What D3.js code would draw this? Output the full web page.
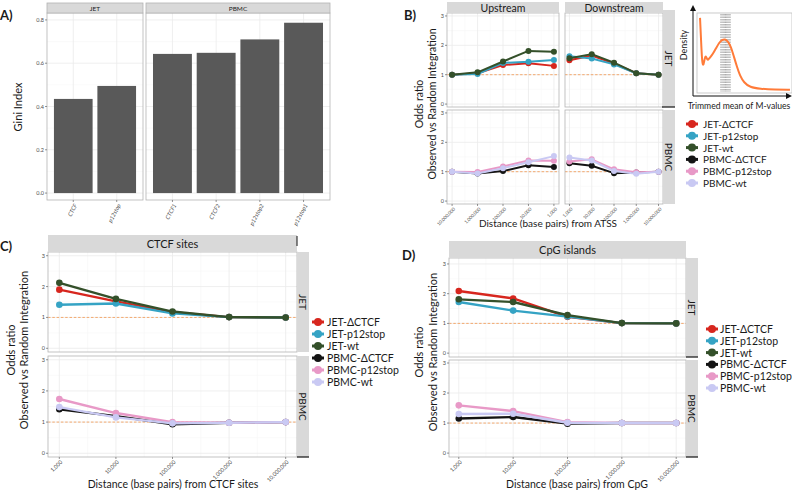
<!DOCTYPE html>
<html>
<head>
<meta charset="utf-8">
<script src="https://cdn.jsdelivr.net/npm/d3@7"></script>
<style>
  body { margin: 0; background: #fff; }
  svg { display: block; }
  text { font-family: Lato, "Open Sans", sans-serif; }
</style>
</head>
<body>
<svg id="chart" width="792" height="492"></svg>
<script>
// ---- data ----
const giniCell = ["JET", "JET", "PBMC", "PBMC", "PBMC", "PBMC"];
const giniSample = ["CTCF", "p12stop", "CTCF1", "CTCF2", "p12stop2", "p12stop1"];
const giniValue = [0.435, 0.495, 0.643, 0.648, 0.71, 0.787];
const giniTicks = [0, 0.2, 0.4, 0.6, 0.8];

const seriesNames = ["JET-ΔCTCF", "JET-p12stop", "JET-wt", "PBMC-ΔCTCF", "PBMC-p12stop", "PBMC-wt"];
const seriesColors = ["#d7261e", "#35a3c4", "#34502a", "#141414", "#e899c7", "#c9c9f3"];

const distAsc = ["1,000", "10,000", "100,000", "1,000,000", "10,000,000"];
const distDesc = distAsc.slice().reverse();
const oddsTicks = [0, 1, 2, 3];

// B) ATSS, upstream is listed 10,000,000 -> 1,000 ; downstream 1,000 -> 10,000,000
const bUpJET = [
  [1.00, 1.05, 1.33, 1.39, 1.30],
  [1.00, 1.02, 1.40, 1.44, 1.50],
  [1.00, 1.08, 1.45, 1.81, 1.78]
];
const bDownJET = [
  [1.49, 1.65, 1.38, 1.05, 1.00],
  [1.63, 1.55, 1.35, 1.05, 1.00],
  [1.56, 1.70, 1.41, 1.05, 1.00]
];
const bUpPBMC = [
  [1.00, 0.94, 1.02, 1.22, 1.16],
  [1.00, 0.99, 1.18, 1.38, 1.37],
  [1.00, 0.94, 1.12, 1.32, 1.53]
];
const bDownPBMC = [
  [1.29, 1.20, 0.95, 0.97, 1.00],
  [1.35, 1.42, 1.08, 0.98, 1.00],
  [1.48, 1.38, 1.02, 0.93, 1.00]
];

// C) CTCF sites
const cJET = [
  [1.90, 1.52, 1.17, 1.01, 1.00],
  [1.41, 1.45, 1.13, 1.01, 1.00],
  [2.12, 1.60, 1.19, 1.01, 1.00]
];
const cPBMC = [
  [1.41, 1.19, 0.93, 0.98, 1.00],
  [1.74, 1.29, 1.00, 0.98, 1.00],
  [1.48, 1.15, 0.96, 0.98, 1.00]
];

// D) CpG islands
const dJET = [
  [2.09, 1.84, 1.22, 1.01, 1.00],
  [1.72, 1.43, 1.23, 1.01, 1.00],
  [1.81, 1.72, 1.28, 1.01, 1.00]
];
const dPBMC = [
  [1.15, 1.20, 0.98, 1.00, 1.00],
  [1.59, 1.40, 1.03, 1.00, 1.00],
  [1.30, 1.31, 1.01, 1.00, 1.00]
];

// inset: density of trimmed mean of M-values (arbitrary units)
const densityX = [1.1, 2.2, 3.2, 4.3, 5.4, 6.5, 7.5, 8.6, 9.7, 11.8, 15, 18.3, 21.5, 24.7, 28, 31.2, 34.4, 37.6, 40.9, 44, 48.4, 54.8, 65.6, 81.7, 97.8];
const densityY = [0.95, 0.67, 0.41, 0.33, 0.38, 0.45, 0.46, 0.42, 0.41, 0.44, 0.49, 0.56, 0.63, 0.67, 0.68, 0.65, 0.58, 0.45, 0.32, 0.21, 0.12, 0.06, 0.04, 0.03, 0.03];
const densityBand = [23.5, 33.5];

// ---- helpers ----
const svg = d3.select("#chart");
const stripFill = "#d9d9d9";
const borderCol = "#b3b3b3";
const gridMajor = "#ebebeb";
const gridMinor = "#f6f6f6";
const tickCol = "#4d4d4d";

function strip(x0, x1, y0, y1, label, vertical, size) {
  svg.append("rect").attr("x", x0).attr("y", y0).attr("width", x1 - x0).attr("height", y1 - y0)
    .attr("fill", stripFill);
  const cx = (x0 + x1) / 2, cy = (y0 + y1) / 2;
  svg.append("text")
    .attr("transform", vertical ? `translate(${cx},${cy}) rotate(90)` : `translate(${cx},${cy})`)
    .attr("text-anchor", "middle").attr("dominant-baseline", "central")
    .attr("font-size", size || 10.5).attr("fill", "#1a1a1a").text(label);
}

function yAxisTicks(x0, y, ticks, fmt) {
  ticks.forEach(t => {
    svg.append("line").attr("x1", x0 - 2).attr("x2", x0).attr("y1", y(t)).attr("y2", y(t))
      .attr("stroke", tickCol).attr("stroke-width", 0.6);
    svg.append("text").attr("x", x0 - 3).attr("y", y(t)).attr("text-anchor", "end")
      .attr("dominant-baseline", "central").attr("font-size", 5.5).attr("fill", tickCol)
      .attr("font-family", "Liberation Sans, sans-serif").text(fmt(t));
  });
}

function xAxisLabels(xScale, cats, yBottom, size) {
  cats.forEach(c => {
    const x = xScale(c);
    svg.append("line").attr("x1", x).attr("x2", x).attr("y1", yBottom).attr("y2", yBottom + 2)
      .attr("stroke", tickCol).attr("stroke-width", 0.6);
    svg.append("text").attr("transform", `translate(${x + 2},${yBottom + 4}) rotate(-45)`)
      .attr("text-anchor", "end").attr("dominant-baseline", "central")
      .attr("font-size", size).attr("fill", tickCol)
      .attr("font-family", "Liberation Sans, sans-serif").text(c);
  });
}

function linePanel(cfg) {
  const x = d3.scalePoint().domain(cfg.cats).range([cfg.x0, cfg.x1]).padding(cfg.pad);
  const y = d3.scaleLinear().domain(cfg.domain).range([cfg.y1, cfg.y0]);
  const g = svg.append("g");
  g.append("rect").attr("x", cfg.x0).attr("y", cfg.y0).attr("width", cfg.x1 - cfg.x0)
    .attr("height", cfg.y1 - cfg.y0).attr("fill", "#fff");
  // minor grid
  const xs = cfg.cats.map(c => x(c));
  for (let i = 0; i < xs.length - 1; i++) {
    const m = (xs[i] + xs[i + 1]) / 2;
    g.append("line").attr("x1", m).attr("x2", m).attr("y1", cfg.y0).attr("y2", cfg.y1)
      .attr("stroke", gridMinor).attr("stroke-width", 0.6);
  }
  [0.5, 1.5, 2.5].forEach(t => g.append("line").attr("x1", cfg.x0).attr("x2", cfg.x1)
    .attr("y1", y(t)).attr("y2", y(t)).attr("stroke", gridMinor).attr("stroke-width", 0.6));
  xs.forEach(v => g.append("line").attr("x1", v).attr("x2", v).attr("y1", cfg.y0).attr("y2", cfg.y1)
    .attr("stroke", gridMajor).attr("stroke-width", 0.8));
  oddsTicks.forEach(t => g.append("line").attr("x1", cfg.x0).attr("x2", cfg.x1)
    .attr("y1", y(t)).attr("y2", y(t)).attr("stroke", gridMajor).attr("stroke-width", 0.8));
  // reference
  g.append("line").attr("x1", cfg.x0).attr("x2", cfg.x1).attr("y1", y(1)).attr("y2", y(1))
    .attr("stroke", "#f4a261").attr("stroke-width", 0.9).attr("stroke-dasharray", "2.5,1.8");
  const line = d3.line().x((d, i) => x(cfg.cats[i])).y(d => y(d));
  cfg.series.forEach((vals, k) => {
    const col = cfg.colors[k];
    g.append("path").attr("d", line(vals)).attr("fill", "none").attr("stroke", col)
      .attr("stroke-width", cfg.lw).attr("stroke-linejoin", "round");
    g.selectAll(null).data(vals).enter().append("circle")
      .attr("cx", (d, i) => x(cfg.cats[i])).attr("cy", d => y(d)).attr("r", cfg.r).attr("fill", col);
  });
  g.append("rect").attr("x", cfg.x0).attr("y", cfg.y0).attr("width", cfg.x1 - cfg.x0)
    .attr("height", cfg.y1 - cfg.y0).attr("fill", "none").attr("stroke", borderCol).attr("stroke-width", 0.8);
  if (cfg.showY) yAxisTicks(cfg.x0, y, oddsTicks, d3.format("d"));
  if (cfg.showX) xAxisLabels(x, cfg.cats, cfg.y1, cfg.tickSize || 5.5);
}

function legend(xDot, xText, yStart, dy, size) {
  seriesNames.forEach((n, i) => {
    const yy = yStart + i * dy;
    svg.append("line").attr("x1", xDot - 6).attr("x2", xDot + 6).attr("y1", yy).attr("y2", yy)
      .attr("stroke", seriesColors[i]).attr("stroke-width", 3);
    svg.append("circle").attr("cx", xDot).attr("cy", yy).attr("r", 4).attr("fill", seriesColors[i]);
    svg.append("text").attr("x", xText).attr("y", yy).attr("dominant-baseline", "central")
      .attr("font-size", size).attr("fill", "#1a1a1a").text(n);
  });
}

function yTitle(x1, x2, cy, size) {
  svg.append("text").attr("transform", `translate(${x1},${cy}) rotate(-90)`)
    .attr("text-anchor", "middle").attr("dominant-baseline", "central")
    .attr("font-size", size).attr("fill", "#1a1a1a").text("Odds ratio");
  svg.append("text").attr("transform", `translate(${x2},${cy}) rotate(-90)`)
    .attr("text-anchor", "middle").attr("dominant-baseline", "central")
    .attr("font-size", size).attr("fill", "#1a1a1a").text("Observed vs Random Integration");
}

function textAt(x, y, s, size, opts) {
  const t = svg.append("text").attr("x", x).attr("y", y).attr("font-size", size)
    .attr("fill", "#1a1a1a").text(s);
  if (opts && opts.anchor) t.attr("text-anchor", opts.anchor);
  if (opts && opts.bold) t.attr("font-weight", "bold").attr("font-family", "Open Sans, sans-serif");
  return t;
}

function blackMark(x0, x1, y) {
  svg.append("line").attr("x1", x0).attr("x2", x1).attr("y1", y).attr("y2", y)
    .attr("stroke", "#111").attr("stroke-width", 1.2);
}

// ---- A) Gini index bars ----
(function () {
  const y = d3.scaleLinear().domain([-0.032, 0.832]).range([200, 13]);
  const facets = [
    { name: "JET", x0: 47, x1: 143 },
    { name: "PBMC", x0: 146, x1: 330 }
  ];
  facets.forEach((f, fi) => {
    const cats = giniSample.filter((s, i) => giniCell[i] === f.name);
    const vals = giniValue.filter((v, i) => giniCell[i] === f.name);
    const x = d3.scaleBand().domain(cats).range([f.x0, f.x1]).paddingInner(0.11).paddingOuter(0.16);
    svg.append("rect").attr("x", f.x0).attr("y", 13).attr("width", f.x1 - f.x0).attr("height", 187).attr("fill", "#fff");
    [0.1, 0.3, 0.5, 0.7].forEach(t => svg.append("line").attr("x1", f.x0).attr("x2", f.x1)
      .attr("y1", y(t)).attr("y2", y(t)).attr("stroke", gridMinor).attr("stroke-width", 0.6));
    giniTicks.forEach(t => svg.append("line").attr("x1", f.x0).attr("x2", f.x1)
      .attr("y1", y(t)).attr("y2", y(t)).attr("stroke", gridMajor).attr("stroke-width", 0.8));
    cats.forEach(c => {
      const cx = x(c) + x.bandwidth() / 2;
      svg.append("line").attr("x1", cx).attr("x2", cx).attr("y1", 13).attr("y2", 200)
        .attr("stroke", gridMajor).attr("stroke-width", 0.8);
    });
    svg.selectAll(null).data(vals).enter().append("rect")
      .attr("x", (d, i) => x(cats[i])).attr("width", x.bandwidth())
      .attr("y", d => y(d)).attr("height", d => y(0) - y(d)).attr("fill", "#595959");
    svg.append("rect").attr("x", f.x0).attr("y", 13).attr("width", f.x1 - f.x0).attr("height", 187)
      .attr("fill", "none").attr("stroke", borderCol).attr("stroke-width", 0.8);
    strip(f.x0, f.x1, 3, 13, f.name, false, 6.5);
    svg.append("rect").attr("x", f.x0).attr("y", 3).attr("width", f.x1 - f.x0).attr("height", 10)
      .attr("fill", "none").attr("stroke", borderCol).attr("stroke-width", 0.8);
    cats.forEach(c => {
      const cx = x(c) + x.bandwidth() / 2;
      svg.append("line").attr("x1", cx).attr("x2", cx).attr("y1", 200).attr("y2", 202)
        .attr("stroke", tickCol).attr("stroke-width", 0.6);
      svg.append("text").attr("transform", `translate(${cx + 2},${204}) rotate(-62)`)
        .attr("text-anchor", "end").attr("dominant-baseline", "central")
        .attr("font-size", 5.8).attr("fill", tickCol).attr("font-style", "italic")
        .attr("font-family", "Liberation Sans, sans-serif").text(c);
    });
    if (fi === 0) yAxisTicks(f.x0, y, giniTicks, d3.format(".1f"));
  });
  svg.append("text").attr("transform", "translate(17,107) rotate(-90)").attr("text-anchor", "middle")
    .attr("dominant-baseline", "central").attr("font-size", 11).attr("fill", "#1a1a1a").text("Gini Index");
  textAt(0, 20, "A)", 13, { bold: true });
})();

// ---- B) ATSS ----
const jetCols = seriesColors.slice(0, 3), pbmcCols = seriesColors.slice(3);
const bDom = [-0.1, 3.1];
linePanel({ x0: 447, x1: 559, y0: 13, y1: 107, cats: distDesc, domain: bDom, series: bUpJET, colors: jetCols, pad: 0.2, r: 3, lw: 2, showY: true });
linePanel({ x0: 565, x1: 663, y0: 13, y1: 107, cats: distAsc, domain: bDom, series: bDownJET, colors: jetCols, pad: 0.2, r: 3, lw: 2 });
linePanel({ x0: 447, x1: 559, y0: 110, y1: 204, cats: distDesc, domain: bDom, series: bUpPBMC, colors: pbmcCols, pad: 0.2, r: 3, lw: 2, showY: true, showX: true, tickSize: 4.6 });
linePanel({ x0: 565, x1: 663, y0: 110, y1: 204, cats: distAsc, domain: bDom, series: bDownPBMC, colors: pbmcCols, pad: 0.2, r: 3, lw: 2, showX: true, tickSize: 4.6 });
strip(447, 559, 2, 13, "Upstream", false, 10.5);
strip(565, 663, 2, 13, "Downstream", false, 10.5);
strip(663, 675, 10, 107, "JET", true, 10);
strip(663, 675, 110, 204, "PBMC", true, 10);
blackMark(662, 675, 107);
yTitle(419, 432, 104, 10.5);
textAt(548, 227, "Distance (base pairs) from ATSS", 10, { anchor: "middle" });
textAt(404, 20, "B)", 13, { bold: true });
legend(692, 703, 124, 11.8, 10);

// inset density
(function () {
  const x = d3.scaleLinear().domain([0, 100]).range([699, 792]);
  const y = d3.scaleLinear().domain([0, 1]).range([92, 14]);
  svg.append("rect").attr("x", 697).attr("y", 13).attr("width", 95).attr("height", 80)
    .attr("fill", "#fff").attr("stroke", "#bdbdbd").attr("stroke-width", 0.8);
  for (let v = densityBand[0]; v <= densityBand[1] + 0.01; v += 1.25) {
    svg.append("line").attr("x1", x(v)).attr("x2", x(v)).attr("y1", 14).attr("y2", 92)
      .attr("stroke", "#777").attr("stroke-width", 0.6).attr("stroke-dasharray", "1.5,1");
  }
  const line = d3.line().x((d, i) => x(densityX[i])).y(d => y(d)).curve(d3.curveBasis);
  svg.append("path").attr("d", line(densityY)).attr("fill", "none").attr("stroke", "#ff7b39").attr("stroke-width", 2);
  svg.append("line").attr("x1", 693).attr("x2", 693).attr("y1", 96).attr("y2", 10).attr("stroke", "#111").attr("stroke-width", 1);
  svg.append("line").attr("x1", 693).attr("x2", 787).attr("y1", 96).attr("y2", 96).attr("stroke", "#111").attr("stroke-width", 1);
  svg.append("path").attr("d", "M690,11 L693,5 L696,11 Z").attr("fill", "#111");
  svg.append("path").attr("d", "M786,93 L792,96 L786,99 Z").attr("fill", "#111");
  svg.append("text").attr("transform", "translate(683,45) rotate(-90)").attr("text-anchor", "middle")
    .attr("dominant-baseline", "central").attr("font-size", 9).attr("fill", "#1a1a1a").text("Density");
  textAt(739, 109, "Trimmed mean of M-values", 8.6, { anchor: "middle" });
})();

// ---- C) CTCF sites ----
const cDom = [-0.12, 3.12];
linePanel({ x0: 48, x1: 297, y0: 252, y1: 352, cats: distAsc, domain: cDom, series: cJET, colors: jetCols, pad: 0.2, r: 3.3, lw: 2.4, showY: true });
linePanel({ x0: 48, x1: 297, y0: 356, y1: 457, cats: distAsc, domain: cDom, series: cPBMC, colors: pbmcCols, pad: 0.2, r: 3.3, lw: 2.4, showY: true, showX: true });
strip(48, 297, 235, 252, "CTCF sites", false, 11);
strip(297, 309, 252, 352, "JET", true, 10);
strip(297, 309, 356, 457, "PBMC", true, 10);
blackMark(297, 309, 457);
svg.append("line").attr("x1", 297).attr("x2", 297).attr("y1", 236).attr("y2", 246).attr("stroke", "#111").attr("stroke-width", 1);
yTitle(10, 23, 350, 11);
textAt(173, 488, "Distance (base pairs) from CTCF sites", 10.5, { anchor: "middle" });
textAt(0, 251, "C)", 13, { bold: true });
legend(318, 327, 322, 12, 10.5);

// ---- D) CpG islands ----
linePanel({ x0: 449, x1: 686, y0: 258, y1: 357, cats: distAsc, domain: [-0.13, 3.2], series: dJET, colors: jetCols, pad: 0.18, r: 3.3, lw: 2.4, showY: true });
linePanel({ x0: 449, x1: 686, y0: 360, y1: 457, cats: distAsc, domain: [-0.13, 3.1], series: dPBMC, colors: pbmcCols, pad: 0.18, r: 3.3, lw: 2.4, showY: true, showX: true });
strip(449, 686, 241, 258, "CpG islands", false, 11);
strip(686, 698, 258, 357, "JET", true, 10);
strip(686, 698, 360, 457, "PBMC", true, 10);
blackMark(686, 698, 357);
blackMark(686, 698, 457);
yTitle(418, 432, 352, 11);
textAt(577, 488, "Distance (base pairs) from CpG", 10.5, { anchor: "middle" });
textAt(402, 260, "D)", 13, { bold: true });
legend(712, 720, 329, 11.8, 10.5);
</script>
</body>
</html>
